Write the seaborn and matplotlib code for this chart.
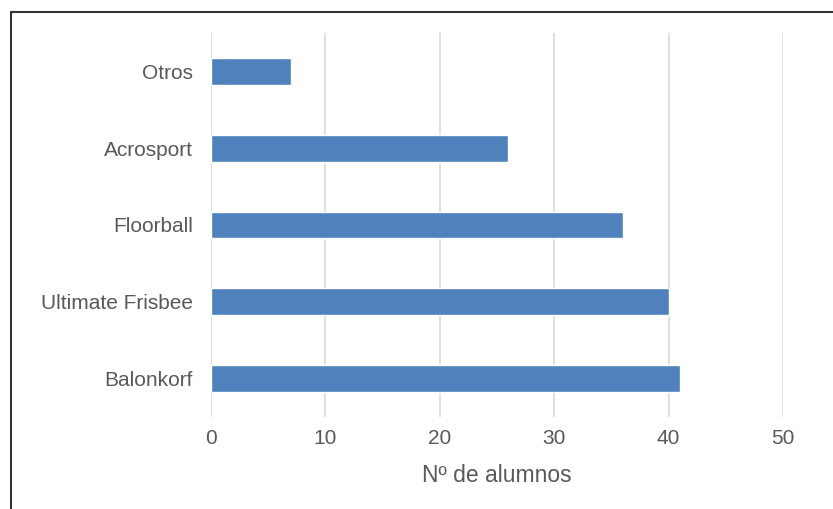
import matplotlib
matplotlib.use("Agg")
import matplotlib.pyplot as plt
from matplotlib.lines import Line2D
import seaborn as sns
import pandas as pd

# datos
deportes = ["Otros", "Acrosport", "Floorball", "Ultimate Frisbee", "Balonkorf"]
alumnos = [7, 26, 36, 40, 41]
x_ticks = [0, 10, 20, 30, 40, 50]

df = pd.DataFrame({"deporte": deportes, "alumnos": alumnos})

sns.set_style("white")
plt.rcParams["font.family"] = ["Liberation Sans", "DejaVu Sans"]

gris = "#595959"

fig = plt.figure(figsize=(8.33, 5.09), dpi=100)
ax = fig.add_axes([211 / 833, 1 - 417 / 509, (783 - 211) / 833, (417 - 33) / 509])

sns.barplot(data=df, x="alumnos", y="deporte", orient="h", color="#4F81BD",
            saturation=1, width=0.35, ax=ax, zorder=3)

ax.set_xlim(0, 50)
ax.set_ylim(4.5, -0.5)
ax.set_xticks(x_ticks)
ax.set_xticklabels([str(t) for t in x_ticks])
ax.grid(axis="x", color="#D9D9D9", linewidth=1.2, zorder=0)
ax.grid(axis="y", visible=False)
for s in ax.spines.values():
    s.set_visible(False)

ax.tick_params(axis="both", length=0, labelsize=15, labelcolor=gris)
ax.tick_params(axis="y", pad=13)
ax.tick_params(axis="x", pad=9)
ax.set_ylabel("")
ax.set_xlabel("Nº de alumnos", fontsize=16.5, color=gris, labelpad=11)

# marco del recorte (solo borde izquierdo y superior)
fig.add_artist(Line2D([10.5 / 833, 10.5 / 833], [0, 1 - 11.5 / 509],
                      transform=fig.transFigure, color="#333333", linewidth=1.5))
fig.add_artist(Line2D([10.5 / 833, 1], [1 - 11.5 / 509, 1 - 11.5 / 509],
                      transform=fig.transFigure, color="#333333", linewidth=1.5))

fig.savefig("out.png", dpi=100)
